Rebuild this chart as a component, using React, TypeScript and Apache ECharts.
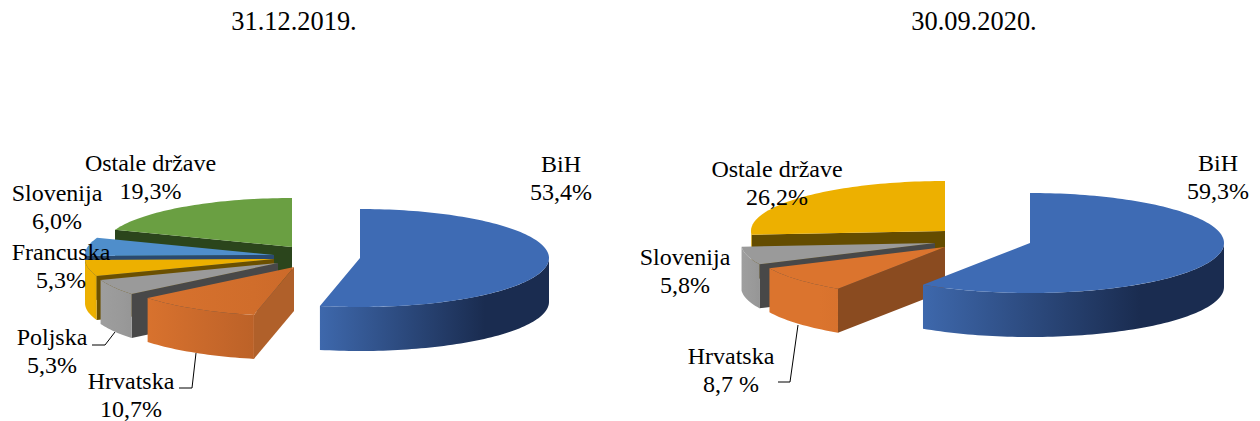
import React, { useEffect, useRef } from "react";
import * as echarts from "echarts";

// ---- data ----
const titles = ["31.12.2019.", "30.09.2020."];
const categories2019 = ["BiH", "Hrvatska", "Poljska", "Francuska", "Slovenija", "Ostale države"];
const values2019 = [53.4, 10.7, 5.3, 5.3, 6.0, 19.3];
const valueLabels2019 = ["53,4%", "10,7%", "5,3%", "5,3%", "6,0%", "19,3%"];
const categories2020 = ["BiH", "Hrvatska", "Slovenija", "Ostale države"];
const values2020 = [59.3, 8.7, 5.8, 26.2];
const valueLabels2020 = ["59,3%", "8,7 %", "5,8%", "26,2%"];

// ---- layout and styles ----
const DEPTH = 44;
const FONT = "'Liberation Serif', 'Times New Roman', serif";
const BLUE_WALL = ["#3E68AC", "#1A2C50", "#1A2C50"];

type Style = { top: any; wall: string[]; cut: string };
const hGrad = (c: string[]) => ({
  type: "linear", x: 0, y: 0, x2: 1, y2: 0,
  colorStops: [
    { offset: 0, color: c[0] },
    { offset: 0.72, color: c[1] },
    { offset: 1, color: c[2] },
  ],
});
const STYLES: Record<string, Style> = {
  blue: { top: "#3E6BB4", wall: BLUE_WALL, cut: "#1A2C50" },
  orange19: { top: hGrad(["#D8722E", "#D06D2B", "#CC6A2A"]), wall: ["#D8722E", "#C4662A", "#BC6228"], cut: "#B0602A" },
  orange20: { top: "#DB742E", wall: ["#DB742E", "#DB742E", "#D8722D"], cut: "#8A4B20" },
  gray: { top: "#9A9A9A", wall: ["#9E9E9E", "#999999", "#969696"], cut: "#484848" },
  yellow: { top: "#EDB000", wall: ["#EDB000", "#EDB000", "#E8AC00"], cut: "#6B5000" },
  yellow20: { top: "#EDB000", wall: ["#EDB000", "#EDB000", "#EDB000"], cut: "#644C00" },
  sky: { top: "#4F8ECB", wall: ["#4F8ECB", "#4F8ECB", "#4F8ECB"], cut: "#2A4A70" },
  green: { top: "#6A9F42", wall: ["#6A9F42", "#6A9F42", "#6A9F42"], cut: "#2B451C" },
};

const radii2019 = { rx: 189, ry: 49 };
const radii2020 = { rx: 194, ry: 50 };

// draw order (back to front) with each slice's apex and style
const layout2019 = [
  { name: "Ostale države", cx: 292, cy: 247, style: "green" },
  { name: "Slovenija", cx: 274, cy: 255, style: "sky" },
  { name: "Francuska", cx: 274, cy: 259, style: "yellow" },
  { name: "Poljska", cx: 278, cy: 263, style: "gray" },
  { name: "Hrvatska", cx: 294, cy: 267, style: "orange19" },
  { name: "BiH", cx: 360, cy: 258, style: "blue" },
];
const layout2020 = [
  { name: "Ostale države", cx: 945, cy: 231, style: "yellow20" },
  { name: "Slovenija", cx: 935, cy: 243, style: "gray" },
  { name: "Hrvatska", cx: 945, cy: 247, style: "orange20" },
  { name: "BiH", cx: 1030, cy: 243, style: "blue" },
];

const labelPos2019: Record<string, [number, number]> = {
  "Ostale države": [150.5, 177],
  Slovenija: [57, 207],
  Francuska: [61, 266],
  Poljska: [52, 351],
  Hrvatska: [131, 395],
  BiH: [561, 178],
};
const labelPos2020: Record<string, [number, number]> = {
  "Ostale države": [777, 183],
  Slovenija: [685, 271],
  Hrvatska: [731, 370],
  BiH: [1218, 177],
};
const leaders = [
  [[92, 345], [105, 345], [115, 332]],
  [[179, 388], [192, 388], [196, 353]],
  [[778, 382], [790, 382], [798, 325]],
];
const titlePos: [number, number][] = [[294, 21], [974, 21]];

function slices(cats: string[], vals: number[]) {
  const total = vals.reduce((a, b) => a + b, 0);
  let acc = 0;
  const out: Record<string, { a0: number; a1: number }> = {};
  cats.forEach((c, i) => {
    const a0 = (acc / total) * 360;
    acc += vals[i];
    out[c] = { a0, a1: (acc / total) * 360 };
  });
  return out;
}

type Radii = { rx: number; ry: number };

function pt(cx: number, cy: number, deg: number, r: Radii): [number, number] {
  const t = (deg * Math.PI) / 180;
  return [cx + r.rx * Math.sin(t), cy - r.ry * Math.cos(t)];
}

function arc(cx: number, cy: number, a: number, b: number, r: Radii) {
  const pts: [number, number][] = [];
  const n = Math.max(2, Math.ceil((b - a) / 1.5));
  for (let i = 0; i <= n; i++) pts.push(pt(cx, cy, a + ((b - a) * i) / n, r));
  return pts;
}

function cutFace(cx: number, cy: number, a: number, fill: string, r: Radii) {
  const [x, y] = pt(cx, cy, a, r);
  return {
    type: "polygon",
    shape: { points: [[cx, cy], [x, y], [x, y + DEPTH], [cx, cy + DEPTH]] },
    style: { fill },
    silent: true,
  };
}

function pieSeries(cats: string[], vals: number[], lay: typeof layout2019, r: Radii) {
  const ang = slices(cats, vals);
  const data = lay.map((l) => [vals[cats.indexOf(l.name)]]);
  return {
    type: "custom",
    coordinateSystem: "none",
    silent: true,
    data,
    renderItem: (params: any) => {
      const l = lay[params.dataIndex];
      const { a0, a1 } = ang[l.name];
      const s = STYLES[l.style];
      const children: any[] = [];
      if (a0 > 180 && a0 < 360) children.push(cutFace(l.cx, l.cy, a0, s.cut, r));
      if (a1 > 0 && a1 < 180) children.push(cutFace(l.cx, l.cy, a1, s.cut, r));
      const w0 = Math.max(a0, 90), w1 = Math.min(a1, 270);
      if (w1 > w0) {
        const top = arc(l.cx, l.cy, w0, w1, r);
        const bottom = top.map(([x, y]) => [x, y + DEPTH]).reverse();
        children.push({
          type: "polygon",
          shape: { points: [...top, ...bottom] },
          style: { fill: hGrad(s.wall) },
          silent: true,
        });
      }
      children.push({
        type: "polygon",
        shape: { points: [[l.cx, l.cy], ...arc(l.cx, l.cy, a0, a1, r)] },
        style: { fill: s.top },
        silent: true,
      });
      return { type: "group", children };
    },
  };
}

function labelElements(cats: string[], labels: string[], pos: Record<string, [number, number]>) {
  return cats.map((c, i) => ({
    type: "text",
    x: pos[c][0],
    y: pos[c][1],
    z: 100,
    silent: true,
    style: {
      text: `${c}\n${labels[i]}`,
      fontFamily: FONT,
      fontSize: 24,
      lineHeight: 28,
      fill: "#000",
      align: "center",
      verticalAlign: "middle",
    },
  }));
}

export default function App() {
  const ref = useRef<HTMLDivElement>(null);
  useEffect(() => {
    const chart = echarts.init(ref.current!, undefined, { renderer: "svg" });
    chart.setOption({
      animation: false,
      backgroundColor: "#fff",
      series: [
        pieSeries(categories2019, values2019, layout2019, radii2019),
        pieSeries(categories2020, values2020, layout2020, radii2020),
      ],
      graphic: [
        ...titles.map((t, i) => ({
          type: "text",
          x: titlePos[i][0],
          y: titlePos[i][1],
          z: 100,
          silent: true,
          style: { text: t, fontFamily: FONT, fontSize: 26.4, fill: "#000", align: "center", verticalAlign: "middle" },
        })),
        ...leaders.map((points) => ({
          type: "polyline",
          z: 90,
          silent: true,
          shape: { points },
          style: { stroke: "#000", lineWidth: 1, fill: "none" },
        })),
        ...labelElements(categories2019, valueLabels2019, labelPos2019),
        ...labelElements(categories2020, valueLabels2020, labelPos2020),
      ],
    });
    return () => chart.dispose();
  }, []);
  return <div ref={ref} style={{ position: "absolute", left: 0, top: 0, width: 1260, height: 421 }} />;
}
